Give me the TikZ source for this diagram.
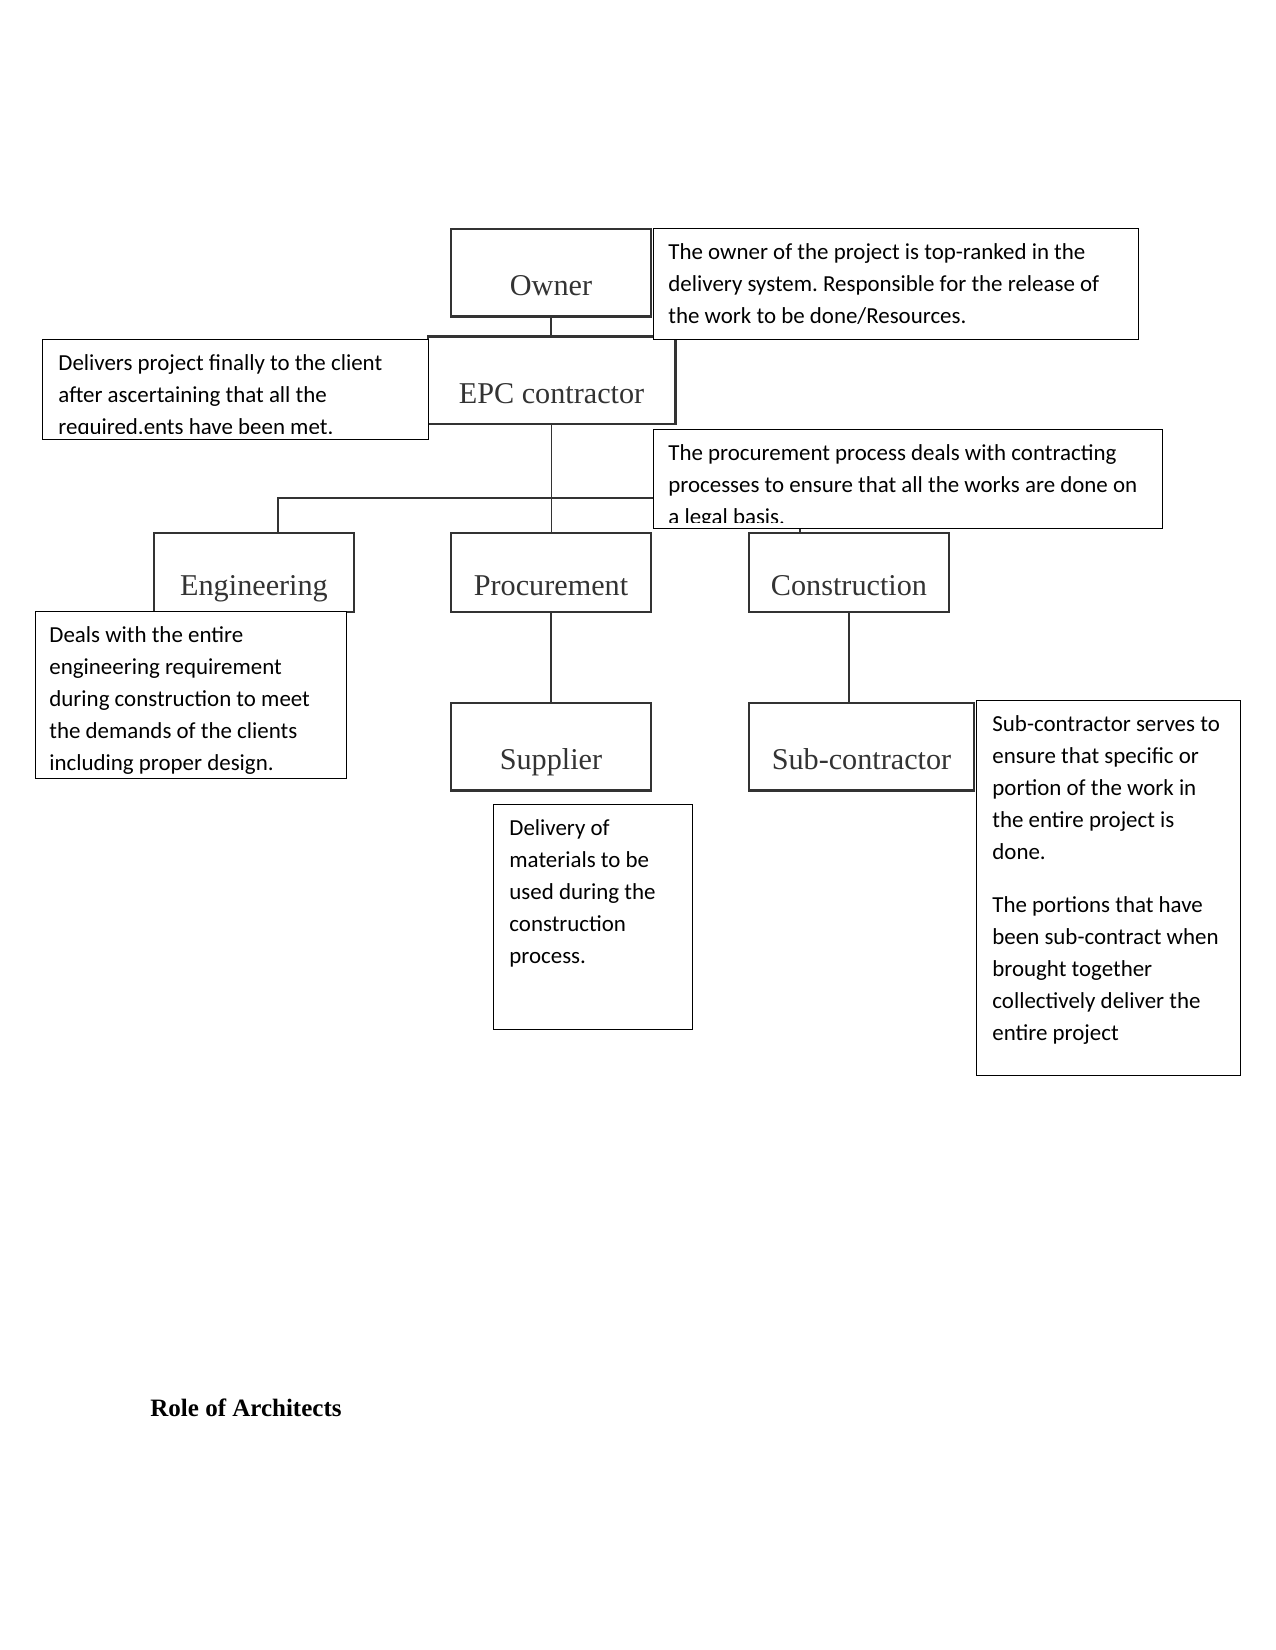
\documentclass[tikz,border=0pt]{standalone}
\usepackage{fontspec}
\setmainfont{Liberation Serif}
\newfontfamily\calibri{Carlito}
\usetikzlibrary{positioning, calc}

\begin{document}
\frenchspacing
\begin{tikzpicture}[
		x=0.48pt, y=-0.48pt,
		unit/.style={draw=black!80, line width=1.4pt, fill=white, inner sep=0pt, text=black!80,
			font=\fontsize{14.5}{16}\selectfont, text height=26pt, text depth=4pt},
		note/.style={draw, line width=0.5pt, fill=white, anchor=north west, inner sep=0pt},
		notetext/.style={anchor=north west, align=left, inner sep=0pt, font=\calibri\fontsize{11}{15.4}\selectfont},
		link/.style={draw=black!80, line width=0.9pt}
	]
		\useasboundingbox (0,0) rectangle (1275,1650);
		\node[unit, minimum width=96pt, minimum height=42.2pt] (owner) at (551,273) {Owner};
		\node[unit, minimum width=118.6pt, minimum height=41.8pt] (epc) at (551.5,380.5) {EPC contractor};
		\node[unit, minimum width=96pt, minimum height=37.9pt] (eng) at (254,572.5) {Engineering};
		\node[unit, minimum width=96pt, minimum height=37.9pt] (proc) at (551,572.5) {Procurement};
		\node[unit, minimum width=96pt, minimum height=37.9pt] (cons) at (849,572.5) {Construction};
		\node[unit, minimum width=96pt, minimum height=41.8pt] (supp) at (551,746.5) {Supplier};
		\node[unit, minimum width=108pt, minimum height=41.8pt] (sub) at (861.5,746.5) {Sub-contractor};
		\coordinate (busW) at (278,498);
		\coordinate (busE) at (800,498);
		\draw[link] (owner.south) -- (owner.south |- epc.north);
		\draw[link] (epc.south) -- (epc.south |- proc.north);
		\draw[link] (eng.north -| busW) -- (busW) -- (busE) -- (busE |- cons.north);
		\draw[link] (proc.south) -- (supp.north);
		\draw[link] (cons.south) -- (cons.south |- sub.north);
		\node[note, minimum width=232.8pt, minimum height=53.3pt] (ownernote) at (653,228) {};
		\node[notetext] (ownertext) at (668,243) {The owner of the project is top-ranked in the\\ delivery system. Responsible for the release of\\ the work to be done/Resources.};
		\node[note, minimum width=185.3pt, minimum height=48pt] (epcnote) at (42,339) {};
		\begin{scope}
			\clip (epcnote.north west) rectangle ($(epcnote.south east)+(0,-7)$);
			\node[notetext] (epctext) at (58,354) {Delivers project finally to the client\\ after ascertaining that all the\\ required.ents have been met.};
		\end{scope}
		\node[note, minimum width=244.3pt, minimum height=47.5pt] (procnote) at (653,429) {};
		\begin{scope}
			\clip (procnote.north west) rectangle ($(procnote.south east)+(0,-7)$);
			\node[notetext] (proctext) at (668,444) {The procurement process deals with contracting\\ processes to ensure that all the works are done on\\ a legal basis.};
		\end{scope}
		\node[note, minimum width=149.3pt, minimum height=80.2pt] (engnote) at (35,611) {};
		\node[notetext] (engtext) at (49,626) {Deals with the entire\\ engineering requirement\\ during construction to meet\\ the demands of the clients\\ including proper design.};
		\node[note, minimum width=95.5pt, minimum height=108pt] (suppnote) at (493,804) {};
		\node[notetext] (supptext) at (509,819) {Delivery of\\ materials to be\\ used during the\\ construction\\ process.};
		\node[note, minimum width=126.7pt, minimum height=180pt] (subnote) at (976,700) {};
		\node[notetext] (subtext) at (992,715) {Sub-contractor serves to\\ ensure that specific or\\ portion of the work in\\ the entire project is\\ done.\\[10pt] The portions that have\\ been sub-contract when\\ brought together\\ collectively deliver the\\ entire project};
		\node[font=\bfseries\fontsize{12}{14}\selectfont, anchor=west, inner sep=0pt] (role) at (150,1408) {Role of Architects};
	\end{tikzpicture}
\end{document}
